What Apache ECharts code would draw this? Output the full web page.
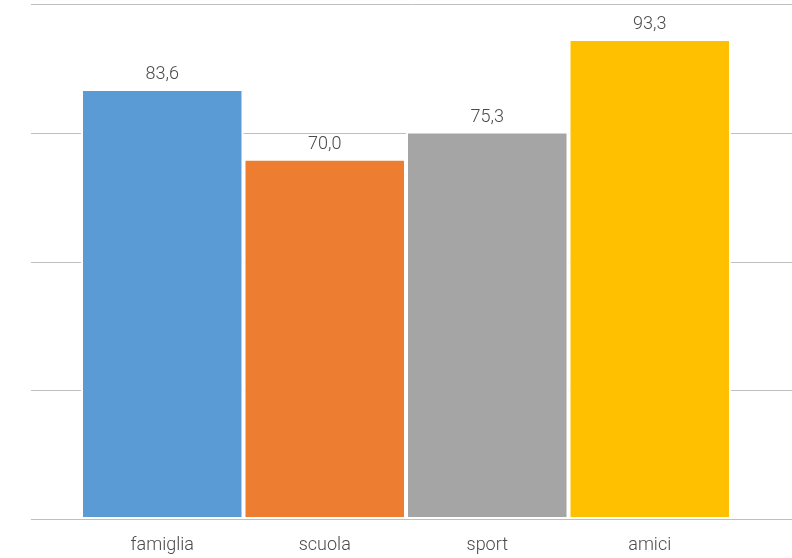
<!DOCTYPE html>
<html>
<head>
<meta charset="utf-8">
<script src="https://cdn.jsdelivr.net/npm/echarts@6/dist/echarts.min.js"></script>
<style>
  html, body { margin: 0; padding: 0; background: #fff; }
  #chart { width: 792px; height: 558px; }
</style>
</head>
<body>
<div id="chart"></div>
<script>
// Categories and percentages
const categories = ['famiglia', 'scuola', 'sport', 'amici'];
const values = [83.6, 70.0, 75.3, 93.3];
const barColors = ['#5B9BD5', '#ED7D31', '#A5A5A5', '#FFC000'];
const yTicks = [0, 25, 50, 75, 100];

const textColor = '#4a4a4a';
const fontFamily = 'Roboto, sans-serif';

const chart = echarts.init(document.getElementById('chart'), null, { renderer: 'canvas' });

chart.setOption({
  animation: false,
  backgroundColor: '#ffffff',
  grid: [
    // full-width grid carrying the horizontal gridlines
    { left: 31, right: 0, top: 4.5, bottom: 39 },
    // inner grid holding the bars
    { left: 81, right: 61, top: 4.5, bottom: 39 }
  ],
  xAxis: [
    { gridIndex: 0, type: 'value', show: false, min: 0, max: 1 },
    {
      gridIndex: 1,
      type: 'category',
      data: categories,
      axisLine: { show: false },
      axisTick: { show: false },
      axisLabel: {
        color: textColor,
        fontFamily: fontFamily,
        fontWeight: 300,
        fontSize: 18,
        margin: 17
      }
    }
  ],
  yAxis: [
    {
      gridIndex: 0,
      type: 'value',
      min: yTicks[0],
      max: yTicks[yTicks.length - 1],
      interval: yTicks[1] - yTicks[0],
      axisLine: { show: false },
      axisTick: { show: false },
      axisLabel: { show: false },
      splitLine: { show: true, lineStyle: { color: '#bfbfbf', width: 1 } }
    },
    {
      gridIndex: 1,
      type: 'value',
      min: yTicks[0],
      max: yTicks[yTicks.length - 1],
      show: false,
      splitLine: { show: false }
    }
  ],
  series: [
    {
      type: 'bar',
      xAxisIndex: 1,
      yAxisIndex: 1,
      barCategoryGap: '0%',
      data: values.map((v, i) => ({
        value: v,
        itemStyle: { color: barColors[i] }
      })),
      itemStyle: { borderColor: '#ffffff', borderWidth: 2 },
      label: {
        show: true,
        position: 'top',
        distance: 5,
        color: textColor,
        fontFamily: fontFamily,
        fontWeight: 300,
        fontSize: 18,
        formatter: p => p.value.toFixed(1).replace('.', ',')
      }
    }
  ]
});
</script>
</body>
</html>
